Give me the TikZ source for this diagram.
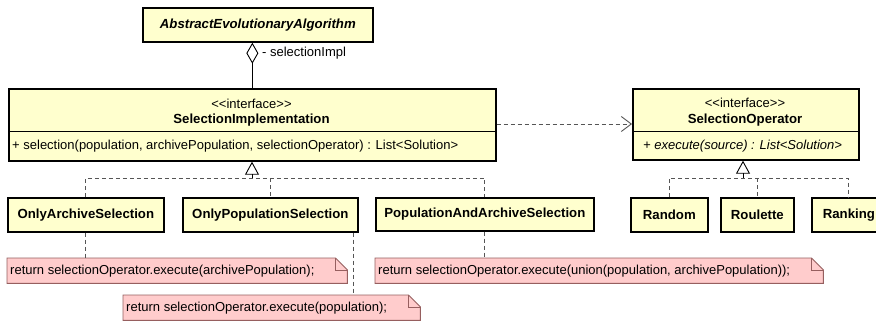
\documentclass[tikz,border=0pt]{standalone}
\usepackage{fontspec}
\setmainfont{Liberation Sans}
\usetikzlibrary{arrows.meta,calc}

\definecolor{clsfill}{RGB}{255,255,206}
\definecolor{notefill}{RGB}{255,204,204}
\definecolor{notedraw}{RGB}{150,95,95}
\definecolor{relgray}{RGB}{85,85,85}

\tikzset{
  cls/.style={draw=black, line width=1.7pt, fill=clsfill, anchor=north west, inner sep=0pt},
  plain/.style={inner sep=0pt, font=\fontsize{13}{15}\selectfont},
  cname/.style={inner sep=0pt, font=\bfseries\fontsize{13.2}{15}\selectfont},
  rel/.style={draw=relgray, line width=0.9pt, dash pattern=on 4pt off 3pt},
  solidline/.style={draw=black, line width=0.9pt},
  notearea/.style={anchor=north west, inner sep=0pt, draw=none},
  notetxt/.style={anchor=west, inner sep=0pt, font=\fontsize{13}{15}\selectfont},
  noteshape/.style={draw=notedraw, fill=notefill, line width=0.9pt},
}

% stereotype text, with the angle brackets kept apart
\newcommand{\stereo}[1]{\textless\kern0pt\textless #1\textgreater\kern0pt\textgreater}

% folded-corner note drawn around a named area node
\newcommand{\umlnote}[1]{%
  \path[noteshape] (#1.north west) -- ($(#1.north east)+(-12,0)$) -- ($(#1.north east)+(0,12)$)
    -- (#1.south east) -- (#1.south west) -- cycle;
  \draw[noteshape, fill=none] ($(#1.north east)+(-12,0)$) -- ($(#1.north east)+(-12,12)$) -- ($(#1.north east)+(0,12)$);
}

\begin{document}
\begin{tikzpicture}[x=1pt, y=-1pt]
\useasboundingbox (0,0) rectangle (876,322);
\clip (0,0) rectangle (876,322);

% abstract owner class
\node[cls, minimum width=230pt, minimum height=34pt] (aea) at (142,7) {};
\node[cname, font=\bfseries\itshape\fontsize{13.2}{15}\selectfont] (aeat) at (aea.center) {AbstractEvolutionaryAlgorithm};

% selection implementation interface
\node[cls, minimum width=487pt, minimum height=72pt] (si) at (8,88) {};
\draw[line width=0.9pt] (si.west |- 0,131) -- (si.east |- 0,131);
\node[plain] (sist) at (251.5,104) {\stereo{interface}};
\node[cname] (sinm) at (251.5,120) {SelectionImplementation};
\node[plain, anchor=west] (sim) at (12,146) {+ selection(population, archivePopulation, selectionOperator) : List\textless Solution\textgreater};

% selection operator interface
\node[cls, minimum width=226pt, minimum height=71pt] (so) at (632,88) {};
\draw[line width=0.9pt] (so.west |- 0,131) -- (so.east |- 0,131);
\node[plain] (sost) at (745,103) {\stereo{interface}};
\node[cname] (sonm) at (745,120) {SelectionOperator};
\node[plain, anchor=west, font=\itshape\fontsize{13}{15}\selectfont] (som) at (643,146) {+ execute(source) : List\textless Solution\textgreater};

% aggregation
\draw[solidline, {Diamond[open, length=21pt, width=12pt]}-] (si.north |- aea.south) -- (si.north);
\node[plain, anchor=west] (aggl) at (262,53) {- selectionImpl};

% dependency
\draw[rel, -{Straight Barb[length=10pt, width=15pt, line width=0.9pt]}] (si.east |- 0,124) -- (so.west |- 0,124);

% implementing classes
\node[cls, minimum width=156pt, minimum height=34pt] (oas) at (7,197) {};
\node[cname] (oast) at (oas.center) {OnlyArchiveSelection};
\node[cls, minimum width=175pt, minimum height=34pt] (ops) at (182,197) {};
\node[cname] (opst) at (ops.center) {OnlyPopulationSelection};
\node[cls, minimum width=218pt, minimum height=33pt] (paas) at (375,197) {};
\node[cname] (paast) at (paas.center) {PopulationAndArchiveSelection};

\node[cls, minimum width=77pt, minimum height=34pt] (rnd) at (630,197) {};
\node[cname] (rndt) at (rnd.center) {Random};
\node[cls, minimum width=73pt, minimum height=34pt] (rou) at (720,197) {};
\node[cname] (rout) at (rou.center) {Roulette};
\node[cls, minimum width=74pt, minimum height=34pt] (rnk) at (811,197) {};
\node[cname] (rnkt) at (rnk.center) {Ranking};

% realization of SelectionImplementation
\coordinate (sij) at (252,178);
\draw[solidline, -{Triangle[open, length=13pt, width=14pt, line width=0.9pt]}] (sij) -- (sij |- si.south);
\draw[rel] (oas.north) -- (oas.north |- sij) -- (paas.north |- sij) -- (paas.north);
\draw[rel] (ops.north |- sij) -- (ops.north);

% realization of SelectionOperator
\coordinate (soj) at (743,178);
\draw[solidline, -{Triangle[open, length=13pt, width=14pt, line width=0.9pt]}] (soj) -- (soj |- so.south);
\draw[rel] (rnd.north) -- (rnd.north |- soj) -- (rnk.north |- soj) -- (rnk.north);
\draw[rel] (rou.north |- soj) -- (rou.north);

% notes
\node[notearea, minimum width=340pt, minimum height=25pt] (n1) at (7,258) {};
\umlnote{n1}
\node[notetxt] (n1t) at ($(n1.west)+(3,0)$) {return selectionOperator.execute(archivePopulation);};

\node[notearea, minimum width=297pt, minimum height=25pt] (n2) at (123,295) {};
\umlnote{n2}
\node[notetxt] (n2t) at ($(n2.west)+(3,0)$) {return selectionOperator.execute(population);};

\node[notearea, minimum width=448pt, minimum height=25pt] (n3) at (375,258) {};
\umlnote{n3}
\node[notetxt] (n3t) at ($(n3.west)+(3,0)$) {return selectionOperator.execute(union(population, archivePopulation));};

% note links
\draw[rel] (oas.south) -- (oas.south |- n1.north);
\coordinate (opsl) at ($(ops.south east)+(-5,0)$);
\draw[rel] (opsl) -- (opsl |- n2.north);
\draw[rel] (paas.south) -- (paas.south |- n3.north);
\end{tikzpicture}
\end{document}
